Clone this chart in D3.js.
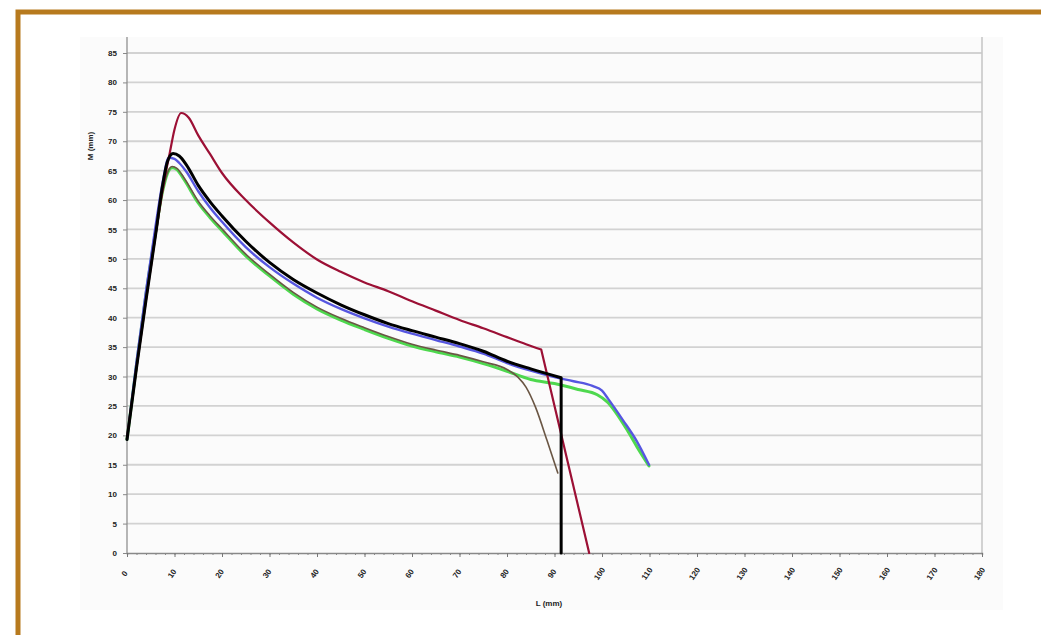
<!DOCTYPE html>
<html>
<head>
  <meta charset="utf-8">
  <script src="https://d3js.org/d3.v7.min.js"></script>
  <style>
    body { margin: 0; background: #fff; }
    svg { font-family: "Liberation Sans", Arial, sans-serif; display: block; }
    .tick-label { font-size: 8px; font-weight: bold; fill: #222; }
    .axis-title { font-size: 8px; font-weight: bold; fill: #222; }
  </style>
</head>
<body>
  <svg width="1041" height="635"></svg>

  <script>
    // Data (L in mm, M in mm)
    const yTicks = d3.range(0, 90, 5);
    const xTicks = d3.range(0, 190, 10);

    const redL = [0, 2, 4, 6, 8, 9, 10, 11.4, 13, 15, 17.5, 20, 25, 30, 35, 40, 45, 50, 55, 60, 65, 70, 75, 80, 84, 87.2, 97.3];
    const redM = [19.5, 31.5, 43, 54, 64, 68, 72, 74.8, 74, 71, 67.8, 64.6, 60, 56.2, 52.8, 49.9, 47.8, 46, 44.5, 42.8, 41.2, 39.6, 38.2, 36.7, 35.5, 34.6, 0];

    const blueL = [0, 2, 4, 6, 7.5, 8.8, 10, 11, 12.5, 15, 17.5, 20, 25, 30, 35, 40, 45, 50, 55, 60, 65, 70, 75, 80, 85, 90, 94, 98, 100, 101.3, 104.4, 107.4, 109.9];
    const blueM = [19.3, 32.5, 44.5, 55.5, 63, 67.2, 67, 66.3, 64.8, 61.5, 58.7, 56.3, 52, 48.6, 45.8, 43.4, 41.5, 39.9, 38.5, 37.3, 36.2, 35.1, 33.9, 32.3, 31, 29.9, 29.2, 28.4, 27.6, 26.2, 22.6, 18.9, 15];

    const greenL = [0, 2, 4, 6, 7.5, 8.5, 9.5, 10.5, 12, 15, 17.5, 20, 25, 30, 35, 40, 45, 50, 55, 60, 65, 70, 75, 80, 85, 90, 95, 99, 101.1, 105.3, 107.4, 109.9];
    const greenM = [19.3, 32, 44, 54.5, 61.5, 64.5, 65.5, 65.2, 63.5, 59.5, 57, 54.8, 50.5, 47.1, 44, 41.5, 39.6, 38, 36.5, 35.2, 34.2, 33.3, 32.2, 30.9, 29.5, 28.8, 27.8, 26.9, 25.7, 20.9, 18, 14.8];

    const brownL = [0, 2, 4, 6, 7.5, 8.5, 9.5, 10.5, 12, 15, 17.5, 20, 25, 30, 35, 40, 45, 50, 55, 60, 65, 70, 75, 80, 82.3, 84, 86, 88.4, 90.7];
    const brownM = [19.3, 32, 44, 54.5, 61.5, 64.6, 65.7, 65.4, 63.8, 59.8, 57.3, 55.1, 50.8, 47.4, 44.3, 41.8, 39.9, 38.3, 36.8, 35.5, 34.5, 33.6, 32.5, 31.2, 29.9, 28.2, 24.8, 19.2, 13.6];

    const blackL = [0, 2, 4, 6, 7.5, 8.5, 9.7, 11, 12.5, 15, 17.5, 20, 25, 30, 35, 40, 45, 50, 55, 60, 65, 70, 75, 80, 85, 91.4, 91.4];
    const blackM = [19.3, 31.5, 43, 54, 62.5, 66.5, 67.9, 67.5, 66, 62.5, 59.7, 57.3, 53, 49.4, 46.5, 44.2, 42.2, 40.5, 39, 37.8, 36.7, 35.6, 34.3, 32.6, 31.3, 29.8, 0];

    // corner: index after which the curve continues as a straight drop
    const series = [
      { name: "green", L: greenL, M: greenM, color: "#4ed84e", width: 3 },
      { name: "brown", L: brownL, M: brownM, color: "#6a5644", width: 1.6 },
      { name: "blue", L: blueL, M: blueM, color: "#5656e0", width: 2.4 },
      { name: "red", L: redL, M: redM, color: "#9c1035", width: 2.2, corner: redL.length - 2 },
      { name: "black", L: blackL, M: blackM, color: "#000000", width: 3, corner: blackL.length - 2 }
    ];

    const svg = d3.select("svg");

    // Gold frame
    svg.append("rect")
      .attr("x", 18).attr("y", 12)
      .attr("width", 1060).attr("height", 660)
      .attr("fill", "none")
      .attr("stroke", "#b77a1e")
      .attr("stroke-width", 5);

    // Chart panel
    svg.append("rect")
      .attr("x", 80).attr("y", 37)
      .attr("width", 923).attr("height", 573)
      .attr("fill", "#fbfbfb");

    const x = d3.scaleLinear().domain([0, 180]).range([127, 982]);
    const y = d3.scaleLinear().domain([0, 85]).range([553, 53]);
    const plotTop = 37;

    // Horizontal gridlines
    svg.append("g")
      .selectAll("line")
      .data(yTicks.filter(d => d > 0))
      .join("line")
      .attr("x1", x(0)).attr("x2", x(180))
      .attr("y1", d => y(d)).attr("y2", d => y(d))
      .attr("stroke", "#d2d2d2")
      .attr("stroke-width", 1.8);

    // Right border of plot
    svg.append("line")
      .attr("x1", x(180)).attr("x2", x(180))
      .attr("y1", plotTop).attr("y2", y(0))
      .attr("stroke", "#c8c8c8")
      .attr("stroke-width", 1.6);

    // Y axis
    const yAxis = svg.append("g")
      .attr("transform", `translate(${x(0)},0)`)
      .call(d3.axisLeft(y).tickValues(yTicks).tickSize(4).tickPadding(6));
    yAxis.select(".domain").remove();
    yAxis.selectAll(".tick line").attr("stroke", "#888");
    yAxis.selectAll(".tick text").attr("class", "tick-label");
    svg.append("line")
      .attr("x1", x(0)).attr("x2", x(0))
      .attr("y1", plotTop).attr("y2", y(0))
      .attr("stroke", "#888").attr("stroke-width", 1.2);

    // X axis: minor ticks every 2, major every 10
    const xAxis = svg.append("g")
      .attr("transform", `translate(0,${y(0)})`);
    xAxis.call(d3.axisBottom(x).tickValues(d3.range(0, 181, 2)).tickSize(2).tickFormat(""));
    xAxis.select(".domain").attr("stroke", "#888").attr("stroke-width", 1.4);
    xAxis.selectAll(".tick line").attr("stroke", "#888");
    const xMajor = svg.append("g")
      .attr("transform", `translate(0,${y(0)})`)
      .call(d3.axisBottom(x).tickValues(xTicks).tickSize(4).tickFormat(""));
    xMajor.select(".domain").remove();
    xMajor.selectAll(".tick line").attr("stroke", "#777");

    svg.append("g")
      .selectAll("text")
      .data(xTicks)
      .join("text")
      .attr("class", "tick-label")
      .attr("text-anchor", "middle")
      .attr("dominant-baseline", "middle")
      .attr("transform", d => `translate(${x(d) - 2},574) rotate(-55)`)
      .text(d => d);

    // Axis titles
    svg.append("text")
      .attr("class", "axis-title")
      .attr("text-anchor", "middle")
      .attr("transform", "translate(93,146) rotate(-90)")
      .text("M (mm)");
    svg.append("text")
      .attr("class", "axis-title")
      .attr("text-anchor", "middle")
      .attr("x", 549).attr("y", 606)
      .text("L (mm)");

    // Curves: smooth through the read points, straight for the final drop
    const smooth = d3.line()
      .x(d => x(d[0]))
      .y(d => y(d[1]))
      .curve(d3.curveMonotoneX);

    function pathFor(s) {
      const pts = s.L.map((v, i) => [v, s.M[i]]);
      if (s.corner === undefined) return smooth(pts);
      let d = smooth(pts.slice(0, s.corner + 1));
      pts.slice(s.corner + 1).forEach(p => { d += `L${x(p[0])},${y(p[1])}`; });
      return d;
    }

    svg.append("g")
      .selectAll("path")
      .data(series)
      .join("path")
      .attr("d", pathFor)
      .attr("fill", "none")
      .attr("stroke", s => s.color)
      .attr("stroke-width", s => s.width)
      .attr("stroke-linejoin", "round")
      .attr("stroke-linecap", "round");
  </script>
</body>
</html>
